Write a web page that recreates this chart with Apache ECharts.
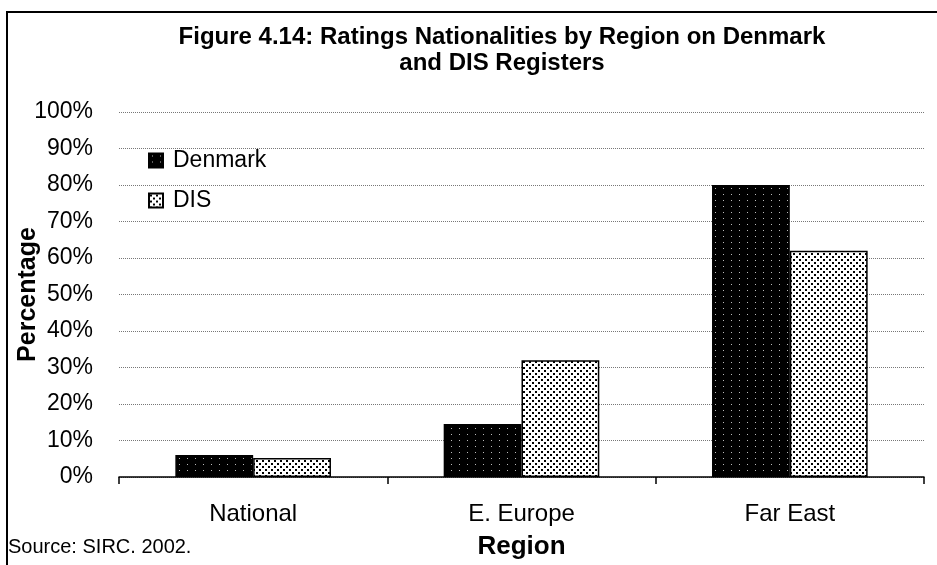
<!DOCTYPE html>
<html>
<head>
<meta charset="utf-8">
<script src="https://cdn.jsdelivr.net/npm/echarts@6/dist/echarts.min.js"></script>
<style>
  html, body { margin: 0; padding: 0; background: #fff; }
  #main { width: 937px; height: 565px; }
</style>
</head>
<body>
<div id="main"></div>
<script>
// data
var regions = ['National', 'E. Europe', 'Far East'];
var denmark = [6, 14.5, 80];
var dis = [5.2, 32, 62];
var yTicks = [0, 10, 20, 30, 40, 50, 60, 70, 80, 90, 100];

// black fill with sparse white dots
function darkPattern() {
  var c = document.createElement('canvas');
  c.width = 8; c.height = 6;
  var g = c.getContext('2d');
  g.fillStyle = '#000';
  g.fillRect(0, 0, 8, 6);
  g.fillStyle = '#bbb';
  g.fillRect(3, 2, 1, 1);
  return c;
}
// white fill with dense black dots, staggered
function lightPattern() {
  var c = document.createElement('canvas');
  c.width = 6; c.height = 6;
  var g = c.getContext('2d');
  g.fillStyle = '#fff';
  g.fillRect(0, 0, 6, 6);
  g.fillStyle = '#000';
  g.fillRect(1, 1, 2, 2);
  g.fillRect(4, 4, 2, 2);
  return c;
}

var font = 'Liberation Sans, Arial, sans-serif';
var chart = echarts.init(document.getElementById('main'));
chart.setOption({
  backgroundColor: '#fff',
  animation: false,
  title: {
    text: 'Figure 4.14: Ratings Nationalities by Region on Denmark\nand DIS Registers',
    left: 497,
    top: 19,
    textAlign: 'center',
    textStyle: { fontFamily: font, fontSize: 24, fontWeight: 'bold', color: '#000', lineHeight: 26 }
  },
  legend: {
    orient: 'vertical',
    left: 143,
    top: 144,
    itemGap: 17,
    itemWidth: 14,
    itemHeight: 14,
    icon: 'rect',
    textStyle: { fontFamily: font, fontSize: 23, color: '#000', padding: [0, 0, 0, 5] },
    data: ['Denmark', 'DIS']
  },
  grid: { left: 119, right: 13, top: 112, bottom: 88, containLabel: false, outerBoundsMode: 'none' },
  xAxis: {
    type: 'category',
    data: regions,
    name: 'Region',
    nameLocation: 'middle',
    nameGap: 57,
    nameTextStyle: { fontFamily: font, fontSize: 26, fontWeight: 'bold', color: '#000' },
    axisLine: { show: true, lineStyle: { color: '#000', width: 1.5 } },
    axisTick: { show: true, alignWithLabel: false, length: 7, lineStyle: { color: '#000', width: 1.5 } },
    axisLabel: { fontFamily: font, fontSize: 24, color: '#000', margin: 25 }
  },
  yAxis: {
    type: 'value',
    min: yTicks[0],
    max: yTicks[yTicks.length - 1],
    interval: yTicks[1] - yTicks[0],
    name: 'Percentage',
    nameLocation: 'middle',
    nameGap: 78,
    nameMoveOverlap: false,
    nameTextStyle: { fontFamily: font, fontSize: 25, fontWeight: 'bold', color: '#000' },
    axisLine: { show: false },
    axisTick: { show: false },
    axisLabel: { fontFamily: font, fontSize: 23, color: '#000', margin: 26, formatter: '{value}%' },
    splitLine: { lineStyle: { color: '#777', type: 'dotted', width: 1 } }
  },
  series: [
    {
      name: 'Denmark',
      type: 'bar',
      data: denmark,
      barGap: '0%',
      barCategoryGap: '42%',
      itemStyle: { color: { image: darkPattern(), repeat: 'repeat' }, borderColor: '#000', borderWidth: 1.5 }
    },
    {
      name: 'DIS',
      type: 'bar',
      data: dis,
      itemStyle: { color: { image: lightPattern(), repeat: 'repeat' }, borderColor: '#000', borderWidth: 1.5 }
    }
  ],
  graphic: [
    {
      type: 'rect',
      shape: { x: 7, y: 12, width: 940, height: 570 },
      style: { fill: 'none', stroke: '#000', lineWidth: 2 },
      silent: true
    },
    {
      type: 'text',
      left: 8,
      top: 537,
      style: { text: 'Source: SIRC. 2002.', font: '20px "Liberation Sans", Arial, sans-serif', fill: '#000' }
    }
  ]
});
</script>
</body>
</html>
